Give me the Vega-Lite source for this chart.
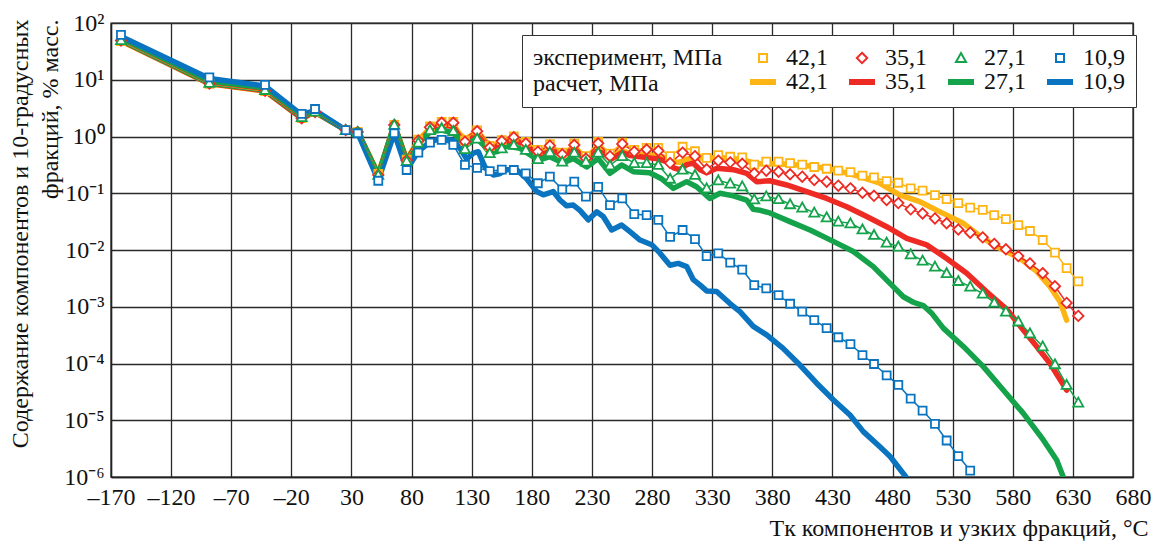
{
  "$schema": "https://vega.github.io/schema/vega-lite/v6.json",
  "width": 1022,
  "height": 454,
  "autosize": {"type": "none"},
  "padding": {"left": 111, "top": 23, "right": 20, "bottom": 69},
  "background": "white",
  "config": {
    "font": "Liberation Serif",
    "view": {"stroke": "#222", "strokeWidth": 1.4},
    "axis": {
      "labelFont": "Liberation Serif", "titleFont": "Liberation Serif",
      "labelFontSize": 24, "titleFontSize": 24, "labelColor": "#111", "titleColor": "#111",
      "titleFontWeight": "normal", "gridColor": "#2a2a2a", "gridWidth": 1.3, "gridOpacity": 1,
      "domainColor": "#222", "domainWidth": 1.4, "ticks": false
    }
  },
  "datasets": {
    "rows": [
      {"k":"c|42,1","x":-161.7,"y":48},{"k":"c|42,1","x":-88.2,"y":8.5},{"k":"c|42,1","x":-41.9,"y":6.3},{"k":"c|42,1","x":-11.4,"y":2.1},{"k":"c|42,1","x":-0.3,"y":2.7},{"k":"c|42,1","x":25.2,"y":1.3},{"k":"c|42,1","x":35.2,"y":1.2},{"k":"c|42,1","x":52.3,"y":0.22},{"k":"c|42,1","x":65.6,"y":1.6},{"k":"c|42,1","x":75.9,"y":0.39},
      {"k":"c|42,1","x":85.6,"y":0.85},{"k":"c|42,1","x":95.3,"y":1.4},{"k":"c|42,1","x":105,"y":1.7},{"k":"c|42,1","x":114.7,"y":1.6},{"k":"c|42,1","x":120,"y":1.1},{"k":"c|42,1","x":125,"y":0.9},{"k":"c|42,1","x":131,"y":1.1},{"k":"c|42,1","x":136,"y":1.15},{"k":"c|42,1","x":142,"y":0.8},{"k":"c|42,1","x":148,"y":0.7},{"k":"c|42,1","x":158,"y":0.85},{"k":"c|42,1","x":166,"y":0.9},{"k":"c|42,1","x":175,"y":0.75},{"k":"c|42,1","x":184,"y":0.55},{"k":"c|42,1","x":190,"y":0.52},{"k":"c|42,1","x":197,"y":0.62},{"k":"c|42,1","x":204,"y":0.52},{"k":"c|42,1","x":210,"y":0.55},{"k":"c|42,1","x":215,"y":0.62},{"k":"c|42,1","x":221,"y":0.5},{"k":"c|42,1","x":227,"y":0.45},{"k":"c|42,1","x":234,"y":0.6},{"k":"c|42,1","x":240,"y":0.55},{"k":"c|42,1","x":246,"y":0.45},{"k":"c|42,1","x":255,"y":0.56},{"k":"c|42,1","x":262,"y":0.5},{"k":"c|42,1","x":270,"y":0.48},{"k":"c|42,1","x":278,"y":0.47},{"k":"c|42,1","x":286,"y":0.45},{"k":"c|42,1","x":292,"y":0.42},{"k":"c|42,1","x":298,"y":0.36},{"k":"c|42,1","x":303,"y":0.35},{"k":"c|42,1","x":309,"y":0.4},{"k":"c|42,1","x":314,"y":0.42},{"k":"c|42,1","x":320,"y":0.42},{"k":"c|42,1","x":334,"y":0.42},{"k":"c|42,1","x":347,"y":0.4},{"k":"c|42,1","x":359,"y":0.37},{"k":"c|42,1","x":367,"y":0.33},{"k":"c|42,1","x":380,"y":0.33},{"k":"c|42,1","x":395,"y":0.32},{"k":"c|42,1","x":414,"y":0.3},{"k":"c|42,1","x":430.7,"y":0.26},{"k":"c|42,1","x":452.9,"y":0.196},{"k":"c|42,1","x":469.5,"y":0.15},{"k":"c|42,1","x":486.2,"y":0.093},{"k":"c|42,1","x":502.8,"y":0.071},{"k":"c|42,1","x":519.5,"y":0.047},{"k":"c|42,1","x":538.9,"y":0.0295},{"k":"c|42,1","x":555.5,"y":0.016},{"k":"c|42,1","x":569.4,"y":0.0107},{"k":"c|42,1","x":586,"y":0.0071},{"k":"c|42,1","x":599.9,"y":0.0042},{"k":"c|42,1","x":611,"y":0.00226},{"k":"c|42,1","x":619.3,"y":0.00123},{"k":"c|42,1","x":624.8,"y":0.00058},

      {"k":"c|35,1","x":-161.7,"y":49},{"k":"c|35,1","x":-88.2,"y":8.6},{"k":"c|35,1","x":-41.9,"y":6.4},{"k":"c|35,1","x":-11.4,"y":2.1},{"k":"c|35,1","x":-0.3,"y":2.7},{"k":"c|35,1","x":25.2,"y":1.3},{"k":"c|35,1","x":35.2,"y":1.2},{"k":"c|35,1","x":52.3,"y":0.21},{"k":"c|35,1","x":65.6,"y":1.6},{"k":"c|35,1","x":75.9,"y":0.38},
      {"k":"c|35,1","x":85.6,"y":0.8},{"k":"c|35,1","x":95.3,"y":1.3},{"k":"c|35,1","x":105,"y":1.6},{"k":"c|35,1","x":114.7,"y":1.5},{"k":"c|35,1","x":120,"y":1.0},{"k":"c|35,1","x":125,"y":0.85},{"k":"c|35,1","x":131,"y":1.05},{"k":"c|35,1","x":136,"y":1.1},{"k":"c|35,1","x":142,"y":0.75},{"k":"c|35,1","x":148,"y":0.65},{"k":"c|35,1","x":158,"y":0.8},{"k":"c|35,1","x":166,"y":0.85},{"k":"c|35,1","x":175,"y":0.7},{"k":"c|35,1","x":184,"y":0.5},{"k":"c|35,1","x":189,"y":0.48},{"k":"c|35,1","x":197,"y":0.58},{"k":"c|35,1","x":204,"y":0.48},{"k":"c|35,1","x":210,"y":0.5},{"k":"c|35,1","x":215,"y":0.58},{"k":"c|35,1","x":221,"y":0.45},{"k":"c|35,1","x":227,"y":0.4},{"k":"c|35,1","x":234,"y":0.55},{"k":"c|35,1","x":240,"y":0.5},{"k":"c|35,1","x":246,"y":0.4},{"k":"c|35,1","x":255,"y":0.52},{"k":"c|35,1","x":262,"y":0.46},{"k":"c|35,1","x":270,"y":0.44},{"k":"c|35,1","x":278,"y":0.42},{"k":"c|35,1","x":286,"y":0.4},{"k":"c|35,1","x":292,"y":0.36},{"k":"c|35,1","x":298,"y":0.28},{"k":"c|35,1","x":303,"y":0.26},{"k":"c|35,1","x":309,"y":0.32},{"k":"c|35,1","x":314,"y":0.34},{"k":"c|35,1","x":320,"y":0.26},{"k":"c|35,1","x":325.4,"y":0.23},{"k":"c|35,1","x":334,"y":0.275},{"k":"c|35,1","x":347.6,"y":0.26},{"k":"c|35,1","x":358.7,"y":0.224},{"k":"c|35,1","x":367,"y":0.16},{"k":"c|35,1","x":378,"y":0.166},{"k":"c|35,1","x":392,"y":0.14},{"k":"c|35,1","x":408.6,"y":0.107},{"k":"c|35,1","x":425.2,"y":0.081},{"k":"c|35,1","x":441.9,"y":0.058},{"k":"c|35,1","x":458.5,"y":0.039},{"k":"c|35,1","x":475.1,"y":0.0257},{"k":"c|35,1","x":491.8,"y":0.016},{"k":"c|35,1","x":508.4,"y":0.0123},{"k":"c|35,1","x":525,"y":0.0071},{"k":"c|35,1","x":541.7,"y":0.0039},{"k":"c|35,1","x":558.3,"y":0.00184},{"k":"c|35,1","x":575,"y":0.0009},{"k":"c|35,1","x":588.8,"y":0.00039},{"k":"c|35,1","x":599.9,"y":0.0002},{"k":"c|35,1","x":611,"y":0.0001},{"k":"c|35,1","x":624.8,"y":0.000034},

      {"k":"c|27,1","x":-161.7,"y":50},{"k":"c|27,1","x":-88.2,"y":8.8},{"k":"c|27,1","x":-41.9,"y":6.6},{"k":"c|27,1","x":-11.4,"y":2.2},{"k":"c|27,1","x":-0.3,"y":2.75},{"k":"c|27,1","x":25.2,"y":1.3},{"k":"c|27,1","x":35.2,"y":1.2},{"k":"c|27,1","x":52.3,"y":0.21},{"k":"c|27,1","x":65.6,"y":1.6},{"k":"c|27,1","x":75.9,"y":0.37},
      {"k":"c|27,1","x":85.6,"y":0.75},{"k":"c|27,1","x":95.3,"y":1.2},{"k":"c|27,1","x":105,"y":1.3},{"k":"c|27,1","x":114.7,"y":1.15},{"k":"c|27,1","x":120.2,"y":0.87},{"k":"c|27,1","x":125.8,"y":0.71},{"k":"c|27,1","x":134,"y":0.93},{"k":"c|27,1","x":140,"y":0.7},{"k":"c|27,1","x":145,"y":0.51},{"k":"c|27,1","x":152,"y":0.55},{"k":"c|27,1","x":159,"y":0.68},{"k":"c|27,1","x":170,"y":0.62},{"k":"c|27,1","x":181,"y":0.44},{"k":"c|27,1","x":187,"y":0.39},{"k":"c|27,1","x":195,"y":0.44},{"k":"c|27,1","x":206,"y":0.34},{"k":"c|27,1","x":214.5,"y":0.41},{"k":"c|27,1","x":225.6,"y":0.29},{"k":"c|27,1","x":235.2,"y":0.41},{"k":"c|27,1","x":245,"y":0.224},{"k":"c|27,1","x":254.7,"y":0.315},{"k":"c|27,1","x":264.4,"y":0.24},{"k":"c|27,1","x":278,"y":0.23},{"k":"c|27,1","x":288,"y":0.18},{"k":"c|27,1","x":297.7,"y":0.122},{"k":"c|27,1","x":308.8,"y":0.16},{"k":"c|27,1","x":317,"y":0.13},{"k":"c|27,1","x":328,"y":0.081},{"k":"c|27,1","x":336.5,"y":0.1},{"k":"c|27,1","x":347.6,"y":0.09},{"k":"c|27,1","x":358.7,"y":0.076},{"k":"c|27,1","x":364.2,"y":0.052},{"k":"c|27,1","x":370,"y":0.05},{"k":"c|27,1","x":378,"y":0.045},{"k":"c|27,1","x":394.7,"y":0.0316},{"k":"c|27,1","x":411.4,"y":0.0225},{"k":"c|27,1","x":430.7,"y":0.0142},{"k":"c|27,1","x":447.4,"y":0.0094},{"k":"c|27,1","x":464,"y":0.0051},{"k":"c|27,1","x":480.6,"y":0.00226},{"k":"c|27,1","x":489,"y":0.0015},{"k":"c|27,1","x":497.3,"y":0.0012},{"k":"c|27,1","x":505.6,"y":0.00105},{"k":"c|27,1","x":513,"y":0.00075},{"k":"c|27,1","x":522.2,"y":0.00042},{"k":"c|27,1","x":538.9,"y":0.0002},{"k":"c|27,1","x":555.5,"y":0.000088},{"k":"c|27,1","x":572.1,"y":0.000034},{"k":"c|27,1","x":588.8,"y":0.0000132},{"k":"c|27,1","x":605.4,"y":0.0000045},{"k":"c|27,1","x":616.5,"y":0.000002},{"k":"c|27,1","x":622,"y":0.000001},{"k":"c|27,1","x":624,"y":0.0000007},

      {"k":"c|10,9","x":-161.7,"y":58},{"k":"c|10,9","x":-88.2,"y":10.5},{"k":"c|10,9","x":-41.9,"y":7.8},{"k":"c|10,9","x":-11.4,"y":2.4},{"k":"c|10,9","x":-0.3,"y":2.9},{"k":"c|10,9","x":25.2,"y":1.3},{"k":"c|10,9","x":35.2,"y":1.15},{"k":"c|10,9","x":52.3,"y":0.17},{"k":"c|10,9","x":65.6,"y":1.15},{"k":"c|10,9","x":75.9,"y":0.26},
      {"k":"c|10,9","x":85.6,"y":0.55},{"k":"c|10,9","x":95.3,"y":0.8},{"k":"c|10,9","x":104,"y":0.93},{"k":"c|10,9","x":114.7,"y":0.85},{"k":"c|10,9","x":120.3,"y":0.62},{"k":"c|10,9","x":125.8,"y":0.4},{"k":"c|10,9","x":131.3,"y":0.51},{"k":"c|10,9","x":135.5,"y":0.54},{"k":"c|10,9","x":141,"y":0.29},{"k":"c|10,9","x":148,"y":0.21},{"k":"c|10,9","x":153,"y":0.22},{"k":"c|10,9","x":159,"y":0.26},{"k":"c|10,9","x":167.4,"y":0.26},{"k":"c|10,9","x":175.7,"y":0.18},{"k":"c|10,9","x":184,"y":0.107},{"k":"c|10,9","x":189.5,"y":0.094},{"k":"c|10,9","x":197.8,"y":0.107},{"k":"c|10,9","x":203.4,"y":0.076},{"k":"c|10,9","x":209,"y":0.06},{"k":"c|10,9","x":214.5,"y":0.062},{"k":"c|10,9","x":220,"y":0.05},{"k":"c|10,9","x":227,"y":0.034},{"k":"c|10,9","x":234,"y":0.047},{"k":"c|10,9","x":239.4,"y":0.039},{"k":"c|10,9","x":246.4,"y":0.0225},{"k":"c|10,9","x":254.7,"y":0.0275},{"k":"c|10,9","x":261.6,"y":0.021},{"k":"c|10,9","x":270,"y":0.015},{"k":"c|10,9","x":279.7,"y":0.0124},{"k":"c|10,9","x":286.6,"y":0.0088},{"k":"c|10,9","x":294.9,"y":0.0054},{"k":"c|10,9","x":301.8,"y":0.0058},{"k":"c|10,9","x":308.8,"y":0.0051},{"k":"c|10,9","x":314.3,"y":0.003},{"k":"c|10,9","x":320,"y":0.0024},{"k":"c|10,9","x":325.4,"y":0.0019},{"k":"c|10,9","x":333.7,"y":0.00186},{"k":"c|10,9","x":344.8,"y":0.00114},{"k":"c|10,9","x":353.1,"y":0.00082},{"k":"c|10,9","x":364.2,"y":0.00045},{"k":"c|10,9","x":375.3,"y":0.00032},{"k":"c|10,9","x":389,"y":0.000185},{"k":"c|10,9","x":403,"y":0.000094},{"k":"c|10,9","x":416.9,"y":0.000045},{"k":"c|10,9","x":430.7,"y":0.000023},{"k":"c|10,9","x":444.6,"y":0.0000124},{"k":"c|10,9","x":455.7,"y":0.0000063},{"k":"c|10,9","x":469.5,"y":0.0000034},{"k":"c|10,9","x":478,"y":0.0000023},{"k":"c|10,9","x":491.8,"y":0.00000096},

      {"k":"e|42,1","x":-161.7,"y":48},{"k":"e|42,1","x":-88.2,"y":8.5},{"k":"e|42,1","x":-41.9,"y":6.3},{"k":"e|42,1","x":-11.4,"y":2.1},{"k":"e|42,1","x":-0.3,"y":2.7},{"k":"e|42,1","x":25.2,"y":1.3},{"k":"e|42,1","x":35.2,"y":1.2},{"k":"e|42,1","x":52.3,"y":0.22},{"k":"e|42,1","x":65.6,"y":1.6},{"k":"e|42,1","x":75.9,"y":0.39},
      {"k":"e|42,1","x":85.6,"y":0.88},{"k":"e|42,1","x":95.3,"y":1.5},{"k":"e|42,1","x":105,"y":1.8},{"k":"e|42,1","x":114.7,"y":1.8},{"k":"e|42,1","x":124.4,"y":0.85},{"k":"e|42,1","x":134.5,"y":1.28},{"k":"e|42,1","x":145,"y":0.68},{"k":"e|42,1","x":155,"y":0.86},{"k":"e|42,1","x":165,"y":1.0},{"k":"e|42,1","x":175,"y":0.8},{"k":"e|42,1","x":185,"y":0.58},{"k":"e|42,1","x":195,"y":0.73},{"k":"e|42,1","x":205.3,"y":0.52},{"k":"e|42,1","x":215.3,"y":0.75},{"k":"e|42,1","x":225,"y":0.45},{"k":"e|42,1","x":235.2,"y":0.8},{"k":"e|42,1","x":245,"y":0.5},{"k":"e|42,1","x":255.2,"y":0.78},{"k":"e|42,1","x":265.2,"y":0.58},{"k":"e|42,1","x":275.5,"y":0.63},{"k":"e|42,1","x":285.2,"y":0.63},{"k":"e|42,1","x":295,"y":0.45},{"k":"e|42,1","x":305.4,"y":0.66},{"k":"e|42,1","x":315.7,"y":0.55},{"k":"e|42,1","x":325.4,"y":0.42},{"k":"e|42,1","x":335.1,"y":0.47},{"k":"e|42,1","x":345,"y":0.44},{"k":"e|42,1","x":355,"y":0.43},{"k":"e|42,1","x":365,"y":0.32},{"k":"e|42,1","x":375,"y":0.36},{"k":"e|42,1","x":385.2,"y":0.36},{"k":"e|42,1","x":394.8,"y":0.34},{"k":"e|42,1","x":404.9,"y":0.32},{"k":"e|42,1","x":414.9,"y":0.29},{"k":"e|42,1","x":425.2,"y":0.27},{"k":"e|42,1","x":434.9,"y":0.25},{"k":"e|42,1","x":445,"y":0.235},{"k":"e|42,1","x":455,"y":0.205},{"k":"e|42,1","x":464.6,"y":0.19},{"k":"e|42,1","x":475.1,"y":0.164},{"k":"e|42,1","x":484.8,"y":0.153},{"k":"e|42,1","x":495.1,"y":0.122},{"k":"e|42,1","x":505,"y":0.111},{"k":"e|42,1","x":515.3,"y":0.093},{"k":"e|42,1","x":525,"y":0.079},{"k":"e|42,1","x":534.7,"y":0.067},{"k":"e|42,1","x":544.6,"y":0.056},{"k":"e|42,1","x":555,"y":0.051},{"k":"e|42,1","x":564.6,"y":0.041},{"k":"e|42,1","x":574.3,"y":0.035},{"k":"e|42,1","x":584.6,"y":0.0275},{"k":"e|42,1","x":594.3,"y":0.0216},{"k":"e|42,1","x":604.9,"y":0.015},{"k":"e|42,1","x":615.1,"y":0.009},{"k":"e|42,1","x":624.8,"y":0.0048},{"k":"e|42,1","x":634.5,"y":0.0028},

      {"k":"e|35,1","x":-161.7,"y":49},{"k":"e|35,1","x":-88.2,"y":8.6},{"k":"e|35,1","x":-41.9,"y":6.4},{"k":"e|35,1","x":-11.4,"y":2.1},{"k":"e|35,1","x":-0.3,"y":2.7},{"k":"e|35,1","x":25.2,"y":1.3},{"k":"e|35,1","x":35.2,"y":1.2},{"k":"e|35,1","x":52.3,"y":0.21},{"k":"e|35,1","x":65.6,"y":1.6},{"k":"e|35,1","x":75.9,"y":0.38},
      {"k":"e|35,1","x":85.6,"y":0.85},{"k":"e|35,1","x":95.3,"y":1.45},{"k":"e|35,1","x":105,"y":1.75},{"k":"e|35,1","x":114.7,"y":1.75},{"k":"e|35,1","x":124.4,"y":0.81},{"k":"e|35,1","x":134.5,"y":1.24},{"k":"e|35,1","x":145,"y":0.64},{"k":"e|35,1","x":155,"y":0.83},{"k":"e|35,1","x":165,"y":0.97},{"k":"e|35,1","x":175,"y":0.76},{"k":"e|35,1","x":185,"y":0.54},{"k":"e|35,1","x":195,"y":0.69},{"k":"e|35,1","x":205.3,"y":0.485},{"k":"e|35,1","x":215.3,"y":0.71},{"k":"e|35,1","x":225,"y":0.41},{"k":"e|35,1","x":235.2,"y":0.76},{"k":"e|35,1","x":245,"y":0.45},{"k":"e|35,1","x":255.2,"y":0.74},{"k":"e|35,1","x":265.2,"y":0.54},{"k":"e|35,1","x":275.5,"y":0.59},{"k":"e|35,1","x":285.2,"y":0.56},{"k":"e|35,1","x":295,"y":0.34},{"k":"e|35,1","x":305.4,"y":0.52},{"k":"e|35,1","x":315.7,"y":0.45},{"k":"e|35,1","x":325.4,"y":0.264},{"k":"e|35,1","x":335.1,"y":0.375},{"k":"e|35,1","x":345,"y":0.35},{"k":"e|35,1","x":355,"y":0.33},{"k":"e|35,1","x":365,"y":0.224},{"k":"e|35,1","x":375,"y":0.25},{"k":"e|35,1","x":385.2,"y":0.24},{"k":"e|35,1","x":394.8,"y":0.216},{"k":"e|35,1","x":404.9,"y":0.196},{"k":"e|35,1","x":414.9,"y":0.171},{"k":"e|35,1","x":425.2,"y":0.16},{"k":"e|35,1","x":434.9,"y":0.136},{"k":"e|35,1","x":445,"y":0.122},{"k":"e|35,1","x":455,"y":0.102},{"k":"e|35,1","x":464.6,"y":0.09},{"k":"e|35,1","x":475.1,"y":0.076},{"k":"e|35,1","x":484.8,"y":0.067},{"k":"e|35,1","x":495.1,"y":0.052},{"k":"e|35,1","x":505,"y":0.044},{"k":"e|35,1","x":515.3,"y":0.036},{"k":"e|35,1","x":525,"y":0.0296},{"k":"e|35,1","x":534.7,"y":0.023},{"k":"e|35,1","x":544.6,"y":0.0202},{"k":"e|35,1","x":555,"y":0.0167},{"k":"e|35,1","x":564.6,"y":0.0128},{"k":"e|35,1","x":574.3,"y":0.0103},{"k":"e|35,1","x":584.6,"y":0.0078},{"k":"e|35,1","x":594.3,"y":0.0058},{"k":"e|35,1","x":604.9,"y":0.0039},{"k":"e|35,1","x":615.1,"y":0.0023},{"k":"e|35,1","x":624.8,"y":0.00117},{"k":"e|35,1","x":634.5,"y":0.00069},

      {"k":"e|27,1","x":-161.7,"y":50},{"k":"e|27,1","x":-88.2,"y":8.8},{"k":"e|27,1","x":-41.9,"y":6.6},{"k":"e|27,1","x":-11.4,"y":2.2},{"k":"e|27,1","x":-0.3,"y":2.75},{"k":"e|27,1","x":25.2,"y":1.3},{"k":"e|27,1","x":35.2,"y":1.2},{"k":"e|27,1","x":52.3,"y":0.21},{"k":"e|27,1","x":65.6,"y":1.6},{"k":"e|27,1","x":75.9,"y":0.37},
      {"k":"e|27,1","x":85.6,"y":0.78},{"k":"e|27,1","x":95.3,"y":1.3},{"k":"e|27,1","x":105,"y":1.4},{"k":"e|27,1","x":114.7,"y":1.25},{"k":"e|27,1","x":124.4,"y":0.6},{"k":"e|27,1","x":134.5,"y":0.92},{"k":"e|27,1","x":145,"y":0.51},{"k":"e|27,1","x":155,"y":0.62},{"k":"e|27,1","x":165,"y":0.71},{"k":"e|27,1","x":175,"y":0.58},{"k":"e|27,1","x":185,"y":0.4},{"k":"e|27,1","x":195,"y":0.53},{"k":"e|27,1","x":205.3,"y":0.36},{"k":"e|27,1","x":215.3,"y":0.52},{"k":"e|27,1","x":225,"y":0.36},{"k":"e|27,1","x":235.2,"y":0.52},{"k":"e|27,1","x":245,"y":0.31},{"k":"e|27,1","x":255.2,"y":0.45},{"k":"e|27,1","x":265.2,"y":0.34},{"k":"e|27,1","x":275.5,"y":0.34},{"k":"e|27,1","x":285.2,"y":0.315},{"k":"e|27,1","x":295,"y":0.18},{"k":"e|27,1","x":305.4,"y":0.26},{"k":"e|27,1","x":315.7,"y":0.21},{"k":"e|27,1","x":325.4,"y":0.122},{"k":"e|27,1","x":335.1,"y":0.168},{"k":"e|27,1","x":345,"y":0.148},{"k":"e|27,1","x":355,"y":0.132},{"k":"e|27,1","x":365,"y":0.078},{"k":"e|27,1","x":375,"y":0.088},{"k":"e|27,1","x":385.2,"y":0.079},{"k":"e|27,1","x":394.8,"y":0.064},{"k":"e|27,1","x":404.9,"y":0.056},{"k":"e|27,1","x":414.9,"y":0.0455},{"k":"e|27,1","x":425.2,"y":0.0377},{"k":"e|27,1","x":434.9,"y":0.0316},{"k":"e|27,1","x":445,"y":0.0295},{"k":"e|27,1","x":455,"y":0.023},{"k":"e|27,1","x":464.6,"y":0.0184},{"k":"e|27,1","x":475.1,"y":0.0135},{"k":"e|27,1","x":484.8,"y":0.0115},{"k":"e|27,1","x":495.1,"y":0.0084},{"k":"e|27,1","x":505,"y":0.0065},{"k":"e|27,1","x":515.3,"y":0.0051},{"k":"e|27,1","x":525,"y":0.0039},{"k":"e|27,1","x":534.7,"y":0.00284},{"k":"e|27,1","x":544.6,"y":0.00226},{"k":"e|27,1","x":555,"y":0.0017},{"k":"e|27,1","x":564.6,"y":0.00118},{"k":"e|27,1","x":574.3,"y":0.00082},{"k":"e|27,1","x":584.6,"y":0.00055},{"k":"e|27,1","x":594.3,"y":0.00034},{"k":"e|27,1","x":604.9,"y":0.0002},{"k":"e|27,1","x":615.1,"y":0.000097},{"k":"e|27,1","x":624.8,"y":0.000042},{"k":"e|27,1","x":634.5,"y":0.0000204},

      {"k":"e|10,9","x":-161.7,"y":62},{"k":"e|10,9","x":-88.2,"y":11},{"k":"e|10,9","x":-41.9,"y":8.1},{"k":"e|10,9","x":-11.4,"y":2.5},{"k":"e|10,9","x":-0.3,"y":3.05},{"k":"e|10,9","x":25.2,"y":1.3},{"k":"e|10,9","x":35.2,"y":1.14},{"k":"e|10,9","x":52.3,"y":0.166},{"k":"e|10,9","x":65.6,"y":1.14},{"k":"e|10,9","x":75.9,"y":0.257},
      {"k":"e|10,9","x":85.6,"y":0.52},{"k":"e|10,9","x":95.3,"y":0.78},{"k":"e|10,9","x":105,"y":0.87},{"k":"e|10,9","x":114.7,"y":0.71},{"k":"e|10,9","x":124.4,"y":0.315},{"k":"e|10,9","x":134.5,"y":0.28},{"k":"e|10,9","x":145,"y":0.245},{"k":"e|10,9","x":155,"y":0.26},{"k":"e|10,9","x":165,"y":0.257},{"k":"e|10,9","x":175,"y":0.224},{"k":"e|10,9","x":185,"y":0.15},{"k":"e|10,9","x":195,"y":0.196},{"k":"e|10,9","x":205.3,"y":0.117},{"k":"e|10,9","x":215.3,"y":0.16},{"k":"e|10,9","x":225,"y":0.087},{"k":"e|10,9","x":235.2,"y":0.13},{"k":"e|10,9","x":245,"y":0.062},{"k":"e|10,9","x":255.2,"y":0.081},{"k":"e|10,9","x":265.2,"y":0.043},{"k":"e|10,9","x":275.5,"y":0.041},{"k":"e|10,9","x":285.2,"y":0.034},{"k":"e|10,9","x":295,"y":0.017},{"k":"e|10,9","x":305.4,"y":0.0225},{"k":"e|10,9","x":315.7,"y":0.0156},{"k":"e|10,9","x":325.4,"y":0.0078},{"k":"e|10,9","x":335.1,"y":0.0087},{"k":"e|10,9","x":345,"y":0.006},{"k":"e|10,9","x":355,"y":0.0045},{"k":"e|10,9","x":365,"y":0.0024},{"k":"e|10,9","x":375,"y":0.0021},{"k":"e|10,9","x":385.2,"y":0.0016},{"k":"e|10,9","x":394.8,"y":0.00113},{"k":"e|10,9","x":404.9,"y":0.00082},{"k":"e|10,9","x":414.9,"y":0.00058},{"k":"e|10,9","x":425.2,"y":0.00042},{"k":"e|10,9","x":434.9,"y":0.00029},{"k":"e|10,9","x":445,"y":0.00022},{"k":"e|10,9","x":455,"y":0.000141},{"k":"e|10,9","x":464.6,"y":0.000098},{"k":"e|10,9","x":475.1,"y":0.000062},{"k":"e|10,9","x":484.8,"y":0.000042},{"k":"e|10,9","x":495.1,"y":0.000024},{"k":"e|10,9","x":505,"y":0.0000148},{"k":"e|10,9","x":515.3,"y":0.0000086},{"k":"e|10,9","x":525,"y":0.0000044},{"k":"e|10,9","x":534.7,"y":0.00000234},{"k":"e|10,9","x":544.6,"y":0.0000013}
    ]
  },
  "data": {"name": "rows"},
  "encoding": {
    "x": {
      "field": "x", "type": "quantitative",
      "scale": {"domain": [-170, 680], "nice": false, "zero": false},
      "axis": {
        "values": [-170,-120,-70,-20,30,80,130,180,230,280,330,380,430,480,530,580,630,680],
        "labelExpr": "datum.value < 0 ? '–' + abs(datum.value) : '' + datum.value",
        "labelPadding": 8, "labelFlush": false,
        "title": "Tк компонентов и узких фракций, °C",
        "titleAlign": "right", "titleBaseline": "alphabetic",
        "titleX": 1037, "titleY": 58
      }
    },
    "y": {
      "field": "y", "type": "quantitative",
      "scale": {"type": "log", "domain": [0.000001, 100], "nice": false},
      "axis": {
        "values": [0.000001,0.00001,0.0001,0.001,0.01,0.1,1,10,100],
        "labelExpr": "datum.value >= 50 ? '10²' : datum.value >= 5 ? '10¹' : datum.value >= 0.5 ? '10⁰' : datum.value >= 0.05 ? '10⁻¹' : datum.value >= 0.005 ? '10⁻²' : datum.value >= 0.0005 ? '10⁻³' : datum.value >= 0.00005 ? '10⁻⁴' : datum.value >= 0.000005 ? '10⁻⁵' : '10⁻⁶'",
        "labelPadding": 7, "labelFlush": false,
        "title": ["Содержание компонентов и 10-градусных", "фракций, % масс."],
        "titleAngle": 270, "titleAlign": "right", "titleBaseline": "middle",
        "titleLineHeight": 30, "titleX": -91, "titleY": -4
      }
    },
    "color": {
      "field": "k", "type": "nominal",
      "scale": {
        "domain": ["e|42,1","e|35,1","e|27,1","e|10,9","c|42,1","c|35,1","c|27,1","c|10,9"],
        "range": ["#FDB515","#EE2A24","#14A24A","#0A74C0","#FDB515","#EE2A24","#14A24A","#0A74C0"]
      },
      "legend": {
        "title": ["эксперимент, МПа", "расчет, МПа"],
        "orient": "none", "legendX": 411, "legendY": 12,
        "direction": "horizontal", "columns": 4,
        "titleOrient": "left", "titleAnchor": "start", "titleAlign": "left", "titleBaseline": "top",
        "titleFont": "Liberation Serif", "titleFontSize": 24, "titleFontWeight": "normal", "titleColor": "#111",
        "titleLineHeight": 26, "titlePadding": 28, "titleLimit": 400,
        "labelFont": "Liberation Serif", "labelFontSize": 24, "labelColor": "#111",
        "labelExpr": "slice(datum.label, 2)", "labelOffset": 11,
        "symbolSize": 400, "symbolStrokeWidth": 2, "symbolFillColor": "white", "symbolOpacity": 1,
        "columnPadding": 17, "rowPadding": 0,
        "strokeColor": "#333", "fillColor": "white", "padding": 11
      }
    }
  },
  "layer": [
    {
      "transform": [{"filter": "indexof(datum.k, 'c|') === 0"}],
      "mark": {"type": "line", "strokeWidth": 5.5, "strokeJoin": "round", "strokeCap": "round", "clip": true},
      "encoding": {}
    },
    {
      "transform": [{"filter": "indexof(datum.k, 'e|') === 0"}],
      "mark": {"type": "line", "strokeWidth": 1.5, "clip": true},
      "encoding": {}
    },
    {
      "transform": [{"filter": "indexof(datum.k, 'e|') === 0"}],
      "mark": {"type": "point", "filled": false, "fill": "white", "fillOpacity": 1, "opacity": 1, "size": 400, "strokeWidth": 1.8, "clip": true},
      "encoding": {
        "shape": {
          "field": "k", "type": "nominal",
          "scale": {
            "domain": ["e|42,1","e|35,1","e|27,1","e|10,9","c|42,1","c|35,1","c|27,1","c|10,9"],
            "range": [
              "M-0.4,-0.4H0.4V0.4H-0.4Z",
              "M0,-0.52L0.52,0L0,0.52L-0.52,0Z",
              "M0,-0.5L0.5,0.4L-0.5,0.4Z",
              "M-0.4,-0.4H0.4V0.4H-0.4Z",
              "M-1.3,-0.2H1.3M-1.3,-0.07H1.3M-1.3,0.07H1.3M-1.3,0.2H1.3",
              "M-1.3,-0.2H1.3M-1.3,-0.07H1.3M-1.3,0.07H1.3M-1.3,0.2H1.3",
              "M-1.3,-0.2H1.3M-1.3,-0.07H1.3M-1.3,0.07H1.3M-1.3,0.2H1.3",
              "M-1.3,-0.2H1.3M-1.3,-0.07H1.3M-1.3,0.07H1.3M-1.3,0.2H1.3"
            ]
          }
        }
      }
    }
  ]
}
